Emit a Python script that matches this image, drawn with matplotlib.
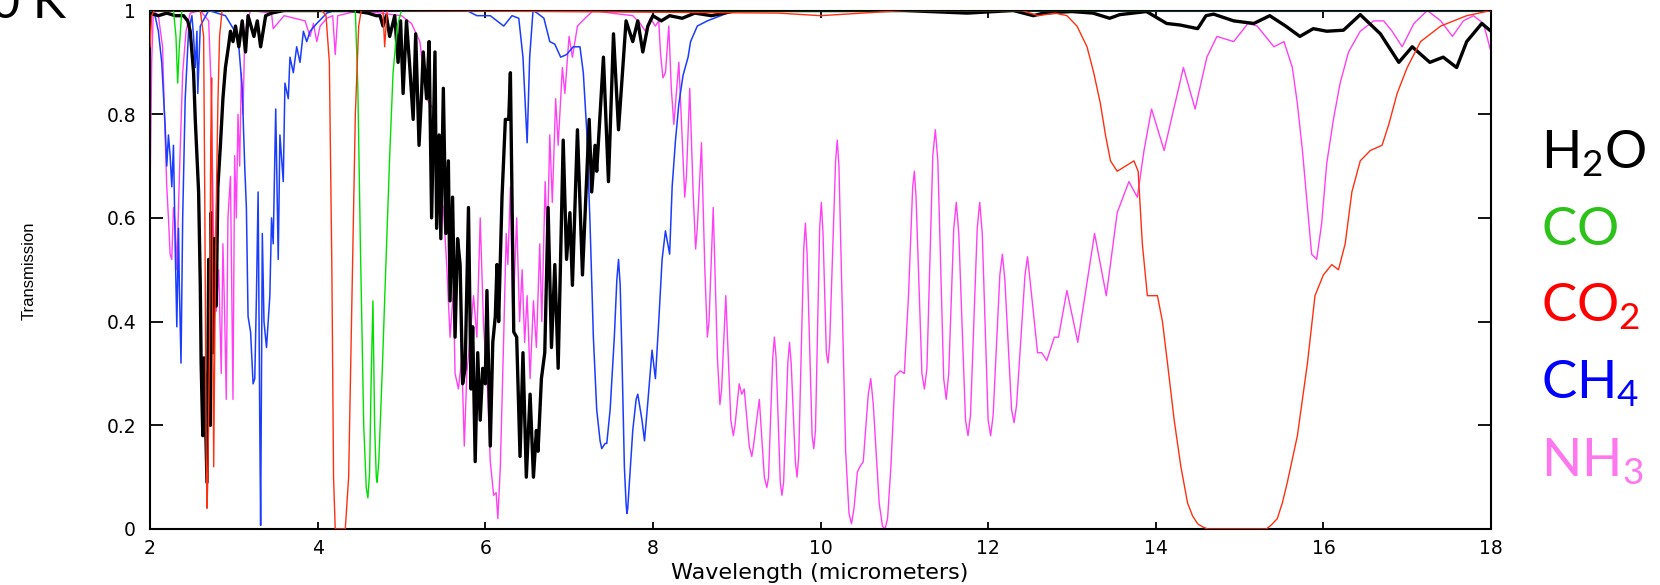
import numpy as np
import matplotlib
matplotlib.use('Agg')
import matplotlib.pyplot as plt

plt.rcParams['mathtext.fontset'] = 'custom'
plt.rcParams['mathtext.rm'] = 'Lato'
plt.rcParams['mathtext.it'] = 'Lato:italic'
plt.rcParams['mathtext.bf'] = 'Lato:bold'

# Transmission spectra (wavelength in micrometers)
h2o_wl = [2.00, 2.10, 2.20, 2.30, 2.40, 2.45, 2.48, 2.52, 2.54, 2.56,
          2.58, 2.60, 2.61, 2.63, 2.645, 2.66, 2.68, 2.70, 2.72, 2.73,
          2.75, 2.77, 2.79, 2.81, 2.84, 2.87, 2.90, 2.94, 2.96, 2.99,
          3.02, 3.06, 3.10, 3.14, 3.17, 3.24, 3.28, 3.32, 3.38, 3.45,
          3.60, 4.00, 4.40, 4.60, 4.70, 4.745, 4.78, 4.82, 4.86, 4.92,
          4.96, 4.99, 5.02, 5.06, 5.10, 5.14, 5.17, 5.21, 5.24, 5.26,
          5.30, 5.33, 5.36, 5.40, 5.42, 5.45, 5.47, 5.50, 5.53, 5.56,
          5.58, 5.61, 5.64, 5.67, 5.70, 5.73, 5.76, 5.80, 5.83, 5.85,
          5.88, 5.91, 5.94, 5.97, 6.00, 6.02, 6.06, 6.09, 6.12, 6.14,
          6.16, 6.20, 6.24, 6.28, 6.30, 6.34, 6.375, 6.415, 6.45, 6.49,
          6.535, 6.575, 6.61, 6.63, 6.67, 6.71, 6.75, 6.79, 6.83, 6.87,
          6.93, 6.97, 7.01, 7.04, 7.10, 7.16, 7.24, 7.27, 7.31, 7.33,
          7.41, 7.47, 7.53, 7.59, 7.68, 7.76, 7.82, 7.88, 7.94, 8.00,
          8.10, 8.20, 8.35, 8.50, 8.70, 9.00, 10.0, 11.0, 11.75, 12.3,
          12.54, 12.66, 13.0, 13.25, 13.45, 13.57, 13.89, 14.13, 14.29, 14.50,
          14.60, 14.69, 14.93, 15.17, 15.36, 15.55, 15.72, 15.88, 16.04, 16.24,
          16.44, 16.68, 16.90, 17.06, 17.27, 17.43, 17.59, 17.71, 17.89, 18.0]
h2o_tr = [0.995, 0.99, 0.995, 0.99, 0.99, 0.98, 0.96, 0.88, 0.79, 0.72,
          0.65, 0.47, 0.32, 0.18, 0.33, 0.23, 0.09, 0.52, 0.20, 0.61,
          0.34, 0.56, 0.43, 0.66, 0.74, 0.83, 0.89, 0.935, 0.96, 0.94,
          0.97, 0.93, 0.98, 0.92, 0.99, 0.95, 0.98, 0.93, 0.99, 0.995,
          1.0, 1.0, 1.0, 0.995, 0.99, 0.99, 0.97, 0.99, 0.95, 0.99,
          0.90, 0.98, 0.84, 0.98, 0.89, 0.79, 0.955, 0.74, 0.84, 0.92,
          0.83, 0.94, 0.60, 0.92, 0.58, 0.76, 0.56, 0.85, 0.57, 0.71,
          0.44, 0.64, 0.37, 0.56, 0.51, 0.28, 0.31, 0.62, 0.27, 0.39,
          0.13, 0.34, 0.21, 0.31, 0.28, 0.46, 0.16, 0.36, 0.41, 0.51,
          0.40, 0.64, 0.79, 0.79, 0.88, 0.38, 0.37, 0.14, 0.34, 0.10,
          0.26, 0.10, 0.19, 0.15, 0.29, 0.34, 0.62, 0.35, 0.51, 0.31,
          0.75, 0.52, 0.61, 0.47, 0.77, 0.49, 0.79, 0.65, 0.74, 0.69,
          0.91, 0.67, 0.955, 0.77, 0.98, 0.94, 0.98, 0.92, 0.97, 0.99,
          0.98, 0.99, 0.985, 0.995, 0.99, 1.0, 1.0, 1.0, 0.995, 1.0,
          0.99, 0.995, 0.998, 0.995, 0.985, 0.992, 0.998, 0.975, 0.972, 0.965,
          0.99, 0.993, 0.98, 0.975, 0.99, 0.97, 0.95, 0.965, 0.96, 0.962,
          0.992, 0.955, 0.90, 0.93, 0.90, 0.91, 0.89, 0.94, 0.975, 0.96]

co_wl = [2.00, 2.28, 2.31, 2.33, 2.35, 2.38, 4.40, 4.45, 4.48, 4.51,
         4.55, 4.58, 4.60, 4.62, 4.64, 4.66, 4.68, 4.70, 4.71, 4.73,
         4.77, 4.81, 4.86, 4.90, 4.95, 5.00, 18.0]
co_tr = [1.0, 1.0, 0.95, 0.86, 0.93, 1.0, 1.0, 1.0, 0.85, 0.55,
         0.20, 0.08, 0.06, 0.11, 0.30, 0.44, 0.20, 0.10, 0.09, 0.13,
         0.30, 0.49, 0.72, 0.88, 0.97, 1.0, 1.0]

co2_wl = [2.00, 2.02, 2.05, 2.60, 2.64, 2.655, 2.67, 2.68, 2.69, 2.71,
          2.725, 2.735, 2.745, 2.76, 2.775, 2.79, 2.81, 2.83, 2.86, 3.50,
          4.05, 4.10, 4.14, 4.17, 4.19, 4.21, 4.33, 4.37, 4.41, 4.45,
          4.49, 4.52, 4.60, 4.78, 4.80, 4.83, 5.00, 9.50, 10.0, 10.5,
          11.0, 12.4, 12.6, 12.8, 12.94, 13.06, 13.18, 13.26, 13.34, 13.40,
          13.46, 13.54, 13.64, 13.74, 13.79, 13.84, 13.90, 13.96, 14.02, 14.08,
          14.14, 14.22, 14.30, 14.38, 14.44, 14.50, 14.56, 14.62, 15.00, 15.32,
          15.38, 15.45, 15.51, 15.57, 15.69, 15.81, 15.90, 16.00, 16.10, 16.18,
          16.26, 16.34, 16.44, 16.56, 16.70, 16.78, 16.88, 17.00, 17.16, 17.40,
          17.71, 18.0]
co2_tr = [0.93, 0.99, 1.0, 1.0, 0.95, 0.60, 0.15, 0.04, 0.10, 0.35,
          0.75, 0.87, 0.50, 0.12, 0.40, 0.62, 0.82, 0.95, 1.0, 1.0,
          1.0, 0.99, 0.90, 0.50, 0.10, 0.0, 0.0, 0.10, 0.45, 0.80,
          0.97, 1.0, 1.0, 1.0, 0.93, 1.0, 1.0, 0.995, 0.99, 0.995,
          1.0, 1.0, 0.99, 0.995, 0.99, 0.97, 0.93, 0.88, 0.82, 0.76,
          0.71, 0.69, 0.70, 0.71, 0.69, 0.55, 0.45, 0.45, 0.45, 0.40,
          0.32, 0.21, 0.12, 0.05, 0.025, 0.01, 0.004, 0.0, 0.0, 0.0,
          0.008, 0.02, 0.05, 0.09, 0.18, 0.32, 0.45, 0.49, 0.51, 0.50,
          0.55, 0.65, 0.71, 0.73, 0.74, 0.78, 0.84, 0.89, 0.94, 0.97,
          0.99, 1.0]

ch4_wl = [2.00, 2.06, 2.10, 2.14, 2.16, 2.18, 2.20, 2.22, 2.24, 2.26,
          2.28, 2.30, 2.32, 2.34, 2.35, 2.37, 2.39, 2.42, 2.46, 2.50,
          2.52, 2.54, 2.56, 2.57, 2.60, 2.70, 2.90, 3.05, 3.10, 3.13,
          3.15, 3.17, 3.20, 3.23, 3.25, 3.27, 3.29, 3.31, 3.32, 3.34,
          3.36, 3.39, 3.43, 3.45, 3.47, 3.50, 3.53, 3.55, 3.59, 3.61,
          3.65, 3.67, 3.71, 3.75, 3.79, 3.83, 3.87, 3.91, 3.99, 4.05,
          4.11, 4.20, 5.78, 5.90, 6.06, 6.18, 6.22, 6.32, 6.40, 6.45,
          6.48, 6.50, 6.53, 6.57, 6.62, 6.70, 6.77, 6.83, 6.90, 6.97,
          7.05, 7.13, 7.17, 7.21, 7.25, 7.29, 7.33, 7.37, 7.39, 7.43,
          7.45, 7.49, 7.54, 7.57, 7.59, 7.61, 7.63, 7.66, 7.68, 7.69,
          7.70, 7.72, 7.76, 7.80, 7.82, 7.84, 7.87, 7.90, 7.94, 7.99,
          8.03, 8.07, 8.11, 8.15, 8.20, 8.23, 8.27, 8.31, 8.36, 8.42,
          8.45, 8.53, 8.65, 8.81, 8.97, 18.0]
ch4_tr = [1.0, 0.99, 0.96, 0.90, 0.84, 0.78, 0.70, 0.76, 0.72, 0.66,
          0.74, 0.55, 0.39, 0.58, 0.47, 0.32, 0.60, 0.83, 0.96, 0.99,
          0.95, 0.89, 0.96, 0.84, 0.97, 1.0, 0.99, 0.95, 0.85, 0.70,
          0.62, 0.41, 0.38, 0.28, 0.29, 0.45, 0.65, 0.20, 0.007, 0.57,
          0.40, 0.35, 0.45, 0.60, 0.55, 0.81, 0.52, 0.76, 0.67, 0.86,
          0.83, 0.91, 0.88, 0.93, 0.90, 0.96, 0.94, 0.96, 0.975, 0.985,
          0.995, 1.0, 1.0, 0.99, 0.99, 0.975, 0.97, 0.99, 0.985, 0.91,
          0.81, 0.745, 0.91, 1.0, 0.995, 0.985, 0.94, 0.935, 0.91, 0.915,
          0.93, 0.93, 0.88, 0.77, 0.59, 0.37, 0.23, 0.17, 0.155, 0.165,
          0.165, 0.23, 0.37, 0.48, 0.52, 0.47, 0.34, 0.12, 0.05, 0.03,
          0.04, 0.09, 0.19, 0.25, 0.26, 0.24, 0.21, 0.17, 0.245, 0.345,
          0.29, 0.40, 0.52, 0.575, 0.53, 0.66, 0.75, 0.82, 0.875, 0.91,
          0.94, 0.97, 0.98, 0.99, 1.0, 1.0]

nh3_wl = [2.00, 2.02, 2.04, 2.10, 2.15, 2.17, 2.20, 2.22, 2.24, 2.26,
          2.28, 2.30, 2.32, 2.34, 2.36, 2.39, 2.43, 2.48, 2.60, 2.70,
          2.73, 2.76, 2.79, 2.82, 2.85, 2.87, 2.89, 2.91, 2.93, 2.96,
          2.99, 3.01, 3.03, 3.05, 3.07, 3.09, 3.11, 3.13, 3.16, 3.20,
          3.45, 3.47, 3.60, 3.85, 3.91, 3.95, 3.99, 4.03, 4.11, 4.18,
          4.21, 4.24, 4.50, 5.00, 5.12, 5.22, 5.30, 5.38, 5.44, 5.50,
          5.54, 5.58, 5.62, 5.64, 5.68, 5.72, 5.75, 5.78, 5.82, 5.86,
          5.90, 5.94, 5.98, 6.02, 6.06, 6.10, 6.13, 6.15, 6.18, 6.22,
          6.25, 6.27, 6.30, 6.33, 6.375, 6.41, 6.44, 6.47, 6.50, 6.535,
          6.575, 6.61, 6.65, 6.675, 6.715, 6.74, 6.77, 6.80, 6.84, 6.87,
          6.92, 6.95, 7.00, 7.04, 7.10, 7.19, 7.29, 7.50, 7.76, 7.85,
          7.91, 7.97, 8.03, 8.07, 8.09, 8.12, 8.15, 8.19, 8.22, 8.25,
          8.27, 8.31, 8.35, 8.38, 8.40, 8.44, 8.48, 8.51, 8.53, 8.58,
          8.62, 8.65, 8.67, 8.72, 8.77, 8.80, 8.82, 8.87, 8.93, 8.96,
          8.98, 9.03, 9.06, 9.09, 9.15, 9.18, 9.20, 9.27, 9.33, 9.36,
          9.38, 9.43, 9.45, 9.47, 9.52, 9.54, 9.56, 9.61, 9.63, 9.65,
          9.70, 9.72, 9.74, 9.80, 9.82, 9.84, 9.90, 9.92, 9.94, 9.99,
          10.01, 10.03, 10.07, 10.09, 10.11, 10.18, 10.20, 10.22, 10.30, 10.34,
          10.37, 10.40, 10.44, 10.47, 10.51, 10.57, 10.60, 10.63, 10.70, 10.74,
          10.77, 10.80, 10.84, 10.89, 10.95, 11.00, 11.05, 11.10, 11.12, 11.14,
          11.21, 11.24, 11.27, 11.34, 11.37, 11.40, 11.47, 11.50, 11.53, 11.59,
          11.62, 11.65, 11.73, 11.76, 11.79, 11.87, 11.90, 11.93, 12.00, 12.03,
          12.06, 12.14, 12.17, 12.20, 12.28, 12.31, 12.34, 12.44, 12.47, 12.50,
          12.59, 12.64, 12.70, 12.79, 12.84, 12.94, 13.07, 13.27, 13.41, 13.54,
          13.68, 13.78, 13.86, 13.95, 14.10, 14.33, 14.47, 14.61, 14.73, 14.93,
          15.10, 15.21, 15.41, 15.53, 15.63, 15.69, 15.75, 15.81, 15.86, 15.92,
          15.98, 16.04, 16.12, 16.20, 16.30, 16.44, 16.60, 16.72, 16.82, 16.94,
          17.08, 17.24, 17.40, 17.54, 17.67, 17.79, 17.91, 18.0]
nh3_tr = [0.64, 0.90, 1.0, 0.99, 0.93, 0.81, 0.66, 0.60, 0.53, 0.52,
          0.62, 0.59, 0.50, 0.62, 0.73, 0.88, 0.96, 0.995, 1.0, 0.98,
          0.85, 0.55, 0.42, 0.50, 0.30, 0.55, 0.42, 0.25, 0.60, 0.68,
          0.25, 0.72, 0.60, 0.80, 0.70, 0.88, 0.80, 0.95, 0.98, 1.0,
          0.995, 0.965, 0.99, 0.98, 0.95, 0.975, 0.94, 0.97, 0.985, 0.99,
          0.915, 0.99, 1.0, 0.99, 0.975, 0.94, 0.83, 0.81, 0.66, 0.62,
          0.51, 0.37, 0.46, 0.30, 0.27, 0.33, 0.16, 0.30, 0.37, 0.45,
          0.37, 0.60, 0.39, 0.30, 0.13, 0.065, 0.07, 0.02, 0.12, 0.37,
          0.57, 0.51, 0.66, 0.40, 0.60, 0.40, 0.50, 0.36, 0.45, 0.29,
          0.44, 0.35, 0.55, 0.40, 0.67, 0.55, 0.76, 0.63, 0.83, 0.74,
          0.89, 0.84, 0.95, 0.91, 0.97, 0.985, 1.0, 0.995, 0.99, 0.975,
          0.96, 0.985, 0.97, 0.98, 0.92, 0.87, 0.88, 0.97, 0.85, 0.78,
          0.82, 0.90, 0.75, 0.64, 0.68, 0.85, 0.65, 0.54, 0.58, 0.745,
          0.50, 0.37, 0.40, 0.62, 0.33, 0.24, 0.27, 0.45, 0.21, 0.18,
          0.20, 0.28, 0.26, 0.27, 0.16, 0.14, 0.16, 0.25, 0.10, 0.08,
          0.10, 0.33, 0.37, 0.33, 0.09, 0.065, 0.09, 0.32, 0.36, 0.32,
          0.13, 0.10, 0.14, 0.54, 0.59, 0.53, 0.18, 0.155, 0.19, 0.58,
          0.63, 0.57, 0.34, 0.32, 0.36, 0.71, 0.75, 0.70, 0.15, 0.03,
          0.01, 0.04, 0.11, 0.12, 0.13, 0.26, 0.29, 0.24, 0.05, 0.005,
          0.0, 0.02, 0.12, 0.295, 0.305, 0.30, 0.45, 0.66, 0.69, 0.64,
          0.30, 0.27, 0.31, 0.72, 0.77, 0.71, 0.29, 0.25, 0.30, 0.58,
          0.63, 0.57, 0.21, 0.18, 0.22, 0.58, 0.63, 0.57, 0.21, 0.18,
          0.22, 0.49, 0.53, 0.48, 0.23, 0.205, 0.24, 0.49, 0.525, 0.48,
          0.34, 0.34, 0.325, 0.37, 0.37, 0.46, 0.36, 0.57, 0.45, 0.61,
          0.67, 0.64, 0.73, 0.81, 0.73, 0.89, 0.81, 0.91, 0.95, 0.94,
          0.975, 0.97, 0.93, 0.94, 0.89, 0.82, 0.73, 0.62, 0.53, 0.52,
          0.59, 0.705, 0.79, 0.86, 0.92, 0.96, 0.98, 0.98, 0.96, 0.93,
          0.975, 1.0, 0.98, 0.95, 0.98, 0.99, 0.975, 0.92]

x_ticks = [2, 4, 6, 8, 10, 12, 14, 16, 18]
y_ticks = [0, 0.2, 0.4, 0.6, 0.8, 1]
y_ticklabels = ['0', '0.2', '0.4', '0.6', '0.8', '1']

legend_names = [r'$\mathrm{H_2O}$', r'$\mathrm{CO}$', r'$\mathrm{CO_2}$',
                r'$\mathrm{CH_4}$', r'$\mathrm{NH_3}$']
legend_colors = ['#000000', '#2dc21a', '#ff0000', '#0000ff', '#ff77ee']

fig = plt.figure(figsize=(16.6, 5.85), dpi=100)
ax = fig.add_axes([150 / 1660, 56 / 585, 1341 / 1660, 518.5 / 585])

# curves
ax.plot(nh3_wl, nh3_tr, color='#ff40f5', lw=1.0, zorder=2)
ax.plot(ch4_wl, ch4_tr, color='#1a3cff', lw=1.1, zorder=3)
ax.plot(h2o_wl, h2o_tr, color='black', lw=2.4, zorder=4)
ax.plot(co_wl, co_tr, color='#00e000', lw=1.0, zorder=5)
ax.plot(co2_wl, co2_tr, color='#ff3010', lw=1.0, zorder=6)

ax.set_xlim(2, 18)
ax.set_ylim(0, 1)
ax.set_xticks(x_ticks)
ax.set_xticklabels([str(t) for t in x_ticks], fontsize=13.5, family='DejaVu Sans')
ax.set_yticks(y_ticks)
ax.set_yticklabels(y_ticklabels, fontsize=13.5, family='DejaVu Sans')
ax.tick_params(axis='both', direction='in', top=True, right=True, width=1.3)
ax.tick_params(axis='y', length=9.5, pad=10)
ax.tick_params(axis='x', length=5, pad=7)
for s in ax.spines.values():
    s.set_linewidth(1.5)

fig.text(820 / 1660, 1 - 573 / 585, 'Wavelength (micrometers)', ha='center', va='center',
         fontsize=16, family='DejaVu Sans')
fig.text(29 / 1660, 1 - 271 / 585, 'Transmission', rotation=90, ha='center', va='center',
         fontsize=12, family='Liberation Sans')

# cut-off title in the corner
fig.text(66 / 1660, 1 - 18 / 585, '0 K', ha='right', va='baseline', fontsize=36, family='Lato')

# coloured labels on the right
baselines = [169, 245, 322, 399, 477]
for name, col, b in zip(legend_names, legend_colors, baselines):
    fig.text(1541 / 1660, 1 - b / 585, name, color=col, ha='left', va='baseline', fontsize=38)

fig.savefig('out.png', dpi=100)
